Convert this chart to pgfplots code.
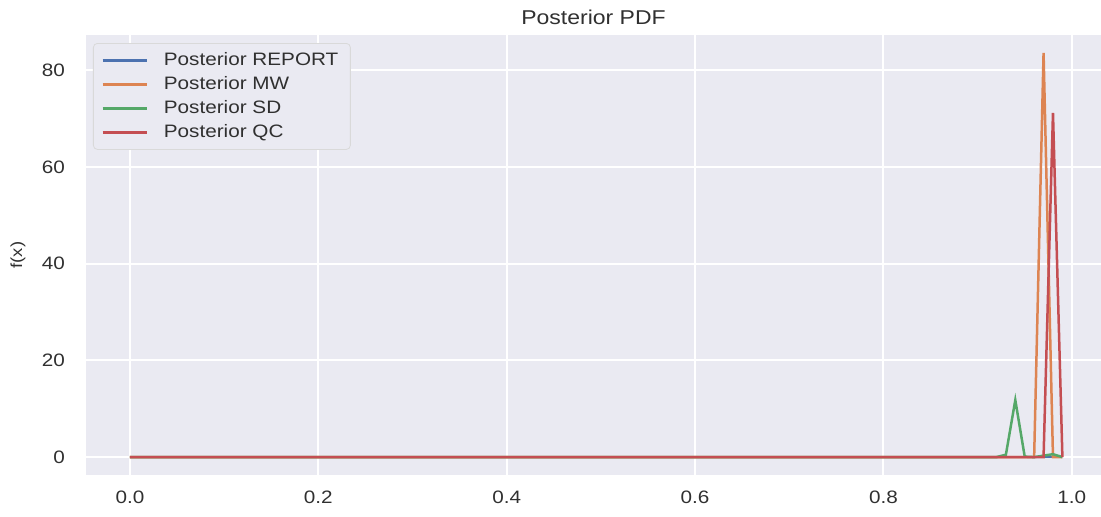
\documentclass[border=0pt]{standalone}
\usepackage{fontspec}
\setmainfont{Liberation Sans}[FakeStretch=1.15]
\usepackage{pgfplots}
\pgfplotsset{compat=1.18}
\definecolor{sbbg}{HTML}{EAEAF2}
\definecolor{sbblue}{HTML}{4C72B0}
\definecolor{sborange}{HTML}{DD8452}
\definecolor{sbgreen}{HTML}{55A868}
\definecolor{sbred}{HTML}{C44E52}
\definecolor{txt}{HTML}{303030}
\begin{document}
\begin{tikzpicture}
\path[use as bounding box] (-43pt,-21pt) rectangle (507.5pt,237.5pt);
\begin{axis}[
  at={(0,0)}, anchor=south west,
  scale only axis,
  width=507.5pt, height=220pt,
  xmin=-0.0467, xmax=1.031,
  ymin=-3.7, ymax=87.3,
  axis background/.style={fill=sbbg},
  axis line style={draw=none},
  major tick style={draw=none},
  grid=major,
  major grid style={white, line width=1pt},
  xtick={0,0.2,0.4,0.6,0.8,1.0},
  ytick={0,20,40,60,80},
  xticklabel style={/pgf/number format/fixed, /pgf/number format/fixed zerofill, /pgf/number format/precision=1, yshift=-4.5pt},
  yticklabel style={xshift=-7pt},
  /pgf/number format/assume math mode=true,
  tick label style={font=\fontsize{9}{11}\selectfont, text=txt},
  title={Posterior PDF},
  every axis title/.style={at={(0.5,1)}, anchor=center, yshift=9pt, font=\fontsize{10}{12}\selectfont, text=txt},
  ylabel={f(x)},
  every axis y label/.style={at={(axis description cs:-0.067,0.5)}, rotate=90, anchor=center, font=\fontsize{8}{10}\selectfont, text=txt},
  legend cell align=left,
  legend style={at={(0,1)}, anchor=north west, xshift=3.5pt, yshift=-4pt,
    fill=sbbg, draw=black!15, rounded corners=2pt,
    font=\fontsize{9}{11}\selectfont, text=txt,
    nodes={inner ysep=1.5pt, text height=7pt, text depth=2pt},
    /tikz/every odd column/.append style={column sep=6pt},
    inner xsep=4pt, inner ysep=2.5pt},
  legend image code/.code={\draw[#1] (0pt,0pt) -- (22pt,0pt);},
  every axis plot/.append style={line width=1.25pt},
]
\addplot[sbblue, no marks] coordinates {(0,0) (0.99,0)};
\addlegendentry{Posterior REPORT}
\addplot[sborange, no marks] coordinates {(0,0) (0.96,0) (0.97,83.6) (0.98,0) (0.99,0)};
\addlegendentry{Posterior MW}
\addplot[sbgreen, no marks] coordinates {(0,0) (0.92,0) (0.93,0.5) (0.94,11.8) (0.95,0.1) (0.96,0) (0.97,0.3) (0.98,0.6) (0.99,0)};
\addlegendentry{Posterior SD}
\addplot[sbred, no marks] coordinates {(0,0) (0.97,0) (0.98,71.2) (0.99,0)};
\addlegendentry{Posterior QC}
\end{axis}
\end{tikzpicture}
\end{document}
